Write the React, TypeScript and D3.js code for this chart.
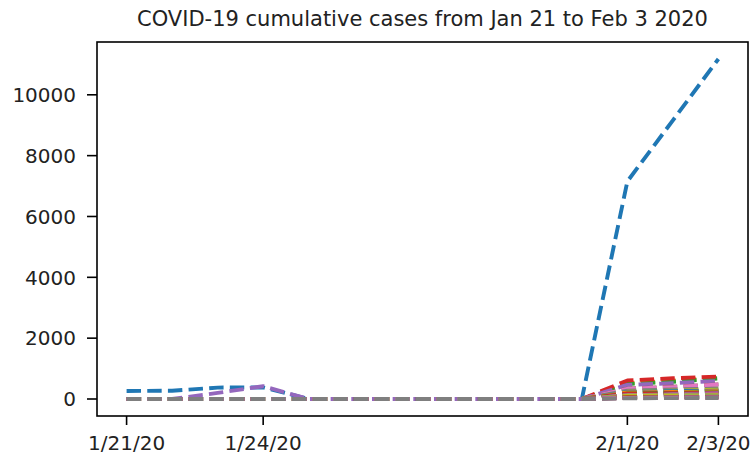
import React from "react";
import * as d3 from "d3";

const dates = [
  "1/21/20", "1/22/20", "1/23/20", "1/24/20", "1/25/20", "1/26/20", "1/27/20",
  "1/28/20", "1/29/20", "1/30/20", "1/31/20", "2/1/20", "2/2/20", "2/3/20",
];
const xTickLabels = ["1/21/20", "1/24/20", "2/1/20", "2/3/20"];
const yTicks = [0, 2000, 4000, 6000, 8000, 10000];
const title = "COVID-19 cumulative cases from Jan 21 to Feb 3 2020";

const hubei = [265, 270, 375, 380, 0, 0, 0, 0, 0, 0, 0, 7153, 9160, 11177];
const guangdong = [0, 0, 0, 0, 0, 0, 0, 0, 0, 0, 0, 520, 604, 690];
const henan = [0, 0, 0, 0, 0, 0, 0, 0, 0, 0, 0, 493, 566, 675];
const zhejiang = [0, 0, 0, 0, 0, 0, 0, 0, 0, 0, 0, 610, 680, 740];
const hunan = [0, 0, 200, 420, 0, 0, 0, 0, 0, 0, 0, 463, 521, 593];
const anhui = [0, 0, 0, 0, 0, 0, 0, 0, 0, 0, 0, 340, 408, 480];
const jiangxi = [0, 0, 0, 0, 0, 0, 0, 0, 0, 0, 0, 333, 391, 476];
const chongqing = [0, 0, 0, 0, 0, 0, 0, 0, 0, 0, 0, 275, 312, 344];
const jiangsu = [0, 0, 0, 0, 0, 0, 0, 0, 0, 0, 0, 236, 271, 308];
const sichuan = [0, 0, 0, 0, 0, 0, 0, 0, 0, 0, 0, 207, 236, 254];
const shandong = [0, 0, 0, 0, 0, 0, 0, 0, 0, 0, 0, 230, 259, 270];
const beijing = [0, 0, 0, 0, 0, 0, 0, 0, 0, 0, 0, 212, 228, 253];
const shanghai = [0, 0, 0, 0, 0, 0, 0, 0, 0, 0, 0, 182, 203, 219];
const fujian = [0, 0, 0, 0, 0, 0, 0, 0, 0, 0, 0, 175, 191, 205];
const heilongjiang = [0, 0, 0, 0, 0, 0, 0, 0, 0, 0, 0, 121, 155, 190];
const shaanxi = [0, 0, 0, 0, 0, 0, 0, 0, 0, 0, 0, 128, 142, 165];
const guangxi = [0, 0, 0, 0, 0, 0, 0, 0, 0, 0, 0, 121, 139, 150];
const hebei = [0, 0, 0, 0, 0, 0, 0, 0, 0, 0, 0, 113, 126, 135];
const yunnan = [0, 0, 0, 0, 0, 0, 0, 0, 0, 0, 0, 105, 117, 122];
const hainan = [0, 0, 0, 0, 0, 0, 0, 0, 0, 0, 0, 69, 70, 79];
const shanxi = [0, 0, 0, 0, 0, 0, 0, 0, 0, 0, 0, 56, 66, 74];
const liaoning = [0, 0, 0, 0, 0, 0, 0, 0, 0, 0, 0, 64, 70, 74];
const tianjin = [0, 0, 0, 0, 0, 0, 0, 0, 0, 0, 0, 48, 60, 67];
const gansu = [0, 0, 0, 0, 0, 0, 0, 0, 0, 0, 0, 51, 55, 57];
const guizhou = [0, 0, 0, 0, 0, 0, 0, 0, 0, 0, 0, 38, 46, 56];
const jilin = [0, 0, 0, 0, 0, 0, 0, 0, 0, 0, 0, 31, 42, 54];
const innerMongolia = [0, 0, 0, 0, 0, 0, 0, 0, 0, 0, 0, 35, 42, 46];
const xinjiang = [0, 0, 0, 0, 0, 0, 0, 0, 0, 0, 0, 24, 29, 32];

const series = [
  hubei, guangdong, henan, zhejiang, hunan, anhui, jiangxi, chongqing, jiangsu,
  sichuan, shandong, beijing, shanghai, fujian, heilongjiang, shaanxi, guangxi,
  hebei, yunnan, hainan, shanxi, liaoning, tianjin, gansu, guizhou, jilin,
  innerMongolia, xinjiang,
];

const palette = [
  "#1f77b4", "#ff7f0e", "#2ca02c", "#d62728", "#9467bd",
  "#8c564b", "#e377c2", "#7f7f7f", "#bcbd22", "#17becf",
];

export default function App() {
  const W = 752;
  const H = 454;
  const left = 97;
  const right = 748;
  const top = 42;
  const bottom = 416;
  const n = dates.length;
  const font = "'DejaVu Sans', sans-serif";
  const tickLen = 9;

  const x = d3
    .scaleLinear()
    .domain([-0.05 * (n - 1), (n - 1) * 1.05])
    .range([left, right]);
  const all = series.flat();
  const maxV = d3.max(all) as number;
  const minV = d3.min(all) as number;
  const span = maxV - minV;
  const y = d3
    .scaleLinear()
    .domain([minV - 0.05 * span, maxV + 0.05 * span])
    .range([bottom, top]);

  const line = d3
    .line<number>()
    .x((_, i) => x(i))
    .y((d) => y(d));

  const lw = 3.9;
  const dash = `${3.7 * lw} ${1.6 * lw}`;

  return (
    <svg
      width={W}
      height={H}
      style={{ position: "absolute", left: 0, top: 0, background: "#fff" }}
      fontFamily={font}
    >
      <rect x={0} y={0} width={W} height={H} fill="#fff" />
      <text
        x={(left + right) / 2}
        y={26}
        textAnchor="middle"
        fontSize={21}
        fill="#222"
      >
        {title}
      </text>
      {series.map((s, i) => (
        <path
          key={i}
          d={line(s) || ""}
          fill="none"
          stroke={palette[i % palette.length]}
          strokeWidth={lw}
          strokeDasharray={dash}
          strokeLinejoin="round"
          strokeLinecap="butt"
        />
      ))}
      <rect
        x={left}
        y={top}
        width={right - left}
        height={bottom - top}
        fill="none"
        stroke="#000"
        strokeWidth={1.6}
      />
      {yTicks.map((t) => (
        <g key={t} transform={`translate(0,${y(t)})`}>
          <line x1={left - tickLen - 1} x2={left} y1={0} y2={0} stroke="#000" strokeWidth={1.6} />
          <text
            x={left - tickLen - 12}
            y={0}
            dy="0.36em"
            textAnchor="end"
            fontSize={20}
            fill="#222"
          >
            {t}
          </text>
        </g>
      ))}
      {xTickLabels.map((lab) => {
        const xi = x(dates.indexOf(lab));
        return (
          <g key={lab} transform={`translate(${xi},0)`}>
            <line x1={0} x2={0} y1={bottom} y2={bottom + tickLen} stroke="#000" strokeWidth={1.6} />
            <text x={0} y={450} textAnchor="middle" fontSize={20} fill="#222">
              {lab}
            </text>
          </g>
        );
      })}
    </svg>
  );
}
